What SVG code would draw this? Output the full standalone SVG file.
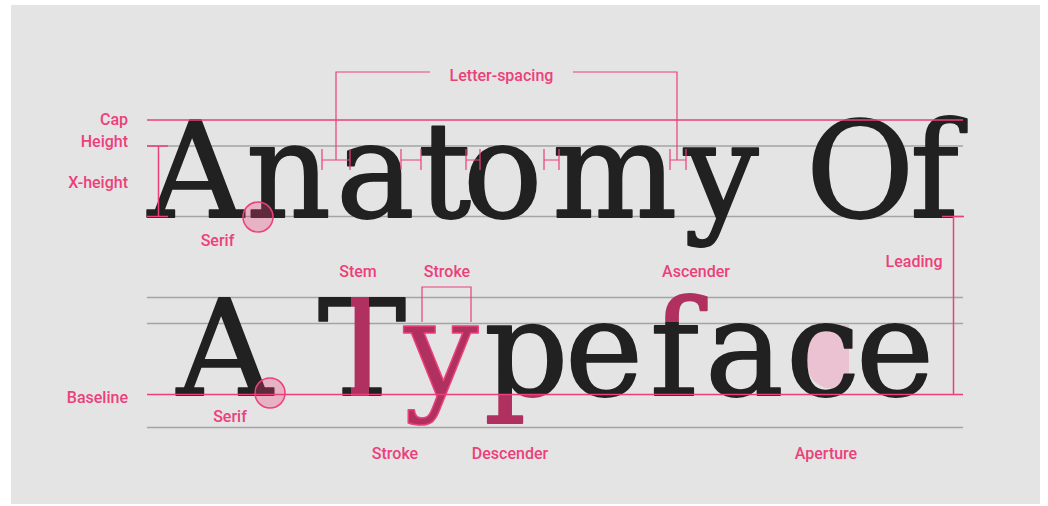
<svg xmlns="http://www.w3.org/2000/svg" width="1048" height="506" viewBox="0 0 1048 506">
<defs>
<style>
.lbl{font-family:Roboto,"Liberation Sans",sans-serif;font-weight:500;font-size:16px;fill:#ec407a}
.big{font-family:"DejaVu Serif","Liberation Serif",serif;font-size:132px;fill:#212121;stroke:#212121;stroke-width:1.8;stroke-linejoin:round}
.gl{stroke:#a4a4a4;stroke-width:1.6;fill:none}
.pk{stroke:#ec407a;stroke-width:1.5;fill:none}
.pkt{stroke:#ec407a;stroke-width:1.2;fill:none}
.serif{fill:#ec407a;fill-opacity:0.3;stroke:#ec407a;stroke-width:1.5}
</style>
<linearGradient id="gT" gradientUnits="userSpaceOnUse" x1="0" y1="0" x2="1048" y2="0">
<stop offset="0" stop-color="#212121"/><stop offset="0.33540" stop-color="#212121"/>
<stop offset="0.33540" stop-color="#b0305f"/><stop offset="0.35210" stop-color="#b0305f"/>
<stop offset="0.35210" stop-color="#212121"/><stop offset="1" stop-color="#212121"/>
</linearGradient>
<linearGradient id="gP" gradientUnits="userSpaceOnUse" x1="0" y1="0" x2="0" y2="506">
<stop offset="0" stop-color="#212121"/><stop offset="0.77964" stop-color="#212121"/>
<stop offset="0.77964" stop-color="#b0305f"/><stop offset="1" stop-color="#b0305f"/>
</linearGradient>
<linearGradient id="gF" gradientUnits="userSpaceOnUse" x1="0" y1="0" x2="0" y2="506">
<stop offset="0" stop-color="#b0305f"/><stop offset="0.63636" stop-color="#b0305f"/>
<stop offset="0.63636" stop-color="#212121"/><stop offset="1" stop-color="#212121"/>
</linearGradient>
</defs>
<rect width="1048" height="506" fill="#ffffff"/>
<rect x="11" y="5" width="1029" height="499" fill="#e4e4e4"/>

<g id="guides">
<line class="gl" x1="147" y1="146" x2="963" y2="146"/>
<line class="gl" x1="147" y1="216.5" x2="963" y2="216.5"/>
<line class="gl" x1="147" y1="297.5" x2="963" y2="297.5"/>
<line class="gl" x1="147" y1="323.5" x2="963" y2="323.5"/>
<line class="gl" x1="147" y1="427.5" x2="963" y2="427.5"/>
</g>

<g id="aperture-fill">
<path d="M826 325 C812 330 806 345 806 357 C806 372 812 384 826 388 L849 388 L849 325 Z" fill="#eac2d1"/>
</g>

<g id="line1">
<text class="big" x="148 246 336 418 463 552 684 770 806 910" y="216.5">Anatomy Of</text>
</g>

<g id="line2">
<text class="big" x="177 270 318 404 484 565 650 705 786 856" y="394.5">A <tspan fill="url(#gT)" stroke="url(#gT)">T</tspan><tspan fill="#b0305f" stroke="#ec407a" stroke-width="1.5">y</tspan><tspan fill="url(#gP)" stroke="url(#gP)">p</tspan>e<tspan fill="url(#gF)" stroke="url(#gF)">f</tspan>ace</text>
</g>

<g id="connectors">
<line class="pk" x1="147" y1="120" x2="963" y2="120"/>
<line class="pk" x1="147" y1="394.5" x2="963" y2="394.5"/>
<line class="pk" x1="147" y1="146" x2="168" y2="146"/>
<line class="pk" x1="147" y1="216.5" x2="168" y2="216.5"/>
<line class="pk" x1="158.5" y1="146" x2="158.5" y2="216.5"/>
<line class="pk" x1="942" y1="216.5" x2="964" y2="216.5"/>
<line class="pk" x1="953.5" y1="216.5" x2="953.5" y2="394.5"/>
<polyline class="pkt" points="430,72 336,72 336,160"/>
<polyline class="pkt" points="573,72 677,72 677,160"/>
<g class="pkt">
<path d="M322 160H350M322 149V170M350 149V170"/>
<path d="M401 160H421M401 149V170M421 149V170"/>
<path d="M466 160H480M466 149V170M480 149V170"/>
<path d="M544 160H559M544 149V170M559 149V170"/>
<path d="M670 160H686M670 149V170M686 149V170"/>
</g>
<polyline class="pkt" points="422,322 422,287 471,287 471,322"/>
</g>

<g id="serif1"><circle class="serif" cx="258" cy="217" r="15"/></g>
<g id="serif2"><circle class="serif" cx="270" cy="393" r="15"/></g>

<g id="labels">
<text class="lbl" x="128" y="124.5" text-anchor="end">Cap</text>
<text class="lbl" x="128" y="147" text-anchor="end">Height</text>
<text class="lbl" x="128" y="188" text-anchor="end">X-height</text>
<text class="lbl" x="128" y="403" text-anchor="end">Baseline</text>
<text class="lbl" x="217.5" y="246" text-anchor="middle">Serif</text>
<text class="lbl" x="230" y="422" text-anchor="middle">Serif</text>
<text class="lbl" x="501.5" y="81" text-anchor="middle">Letter-spacing</text>
<text class="lbl" x="358" y="277" text-anchor="middle">Stem</text>
<text class="lbl" x="447" y="277" text-anchor="middle">Stroke</text>
<text class="lbl" x="696" y="277" text-anchor="middle">Ascender</text>
<text class="lbl" x="914" y="267" text-anchor="middle">Leading</text>
<text class="lbl" x="395" y="459" text-anchor="middle">Stroke</text>
<text class="lbl" x="510" y="459" text-anchor="middle">Descender</text>
<text class="lbl" x="826" y="459" text-anchor="middle">Aperture</text>
</g>
</svg>
